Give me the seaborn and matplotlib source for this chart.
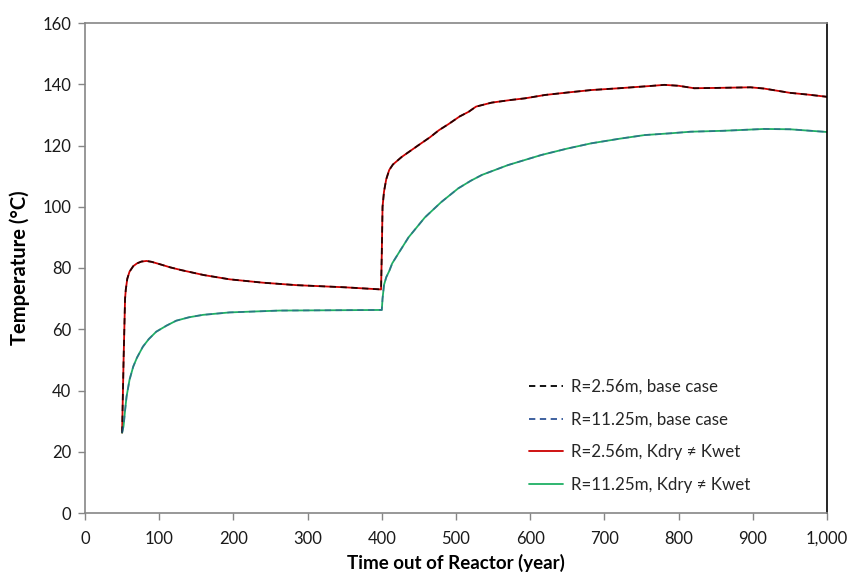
import numpy as np
import pandas as pd
import matplotlib
matplotlib.use("Agg")
import matplotlib.pyplot as plt
import matplotlib.ticker as mticker
import seaborn as sns

# ---- data ----
years_r256 = [50, 52, 54, 55, 57, 60, 65, 70, 76, 83, 90, 100, 115, 130, 160, 195, 240,
              285, 350, 399, 400, 401, 403, 406, 410, 415, 427, 440, 450, 465, 477,
              490, 505, 517, 527, 548, 575, 593, 620, 650, 682, 720, 760, 781, 800,
              821, 850, 897, 915, 950, 975, 1000]
temp_r256 = [26.2, 50, 70, 73, 76.5, 78.8, 80.6, 81.5, 82.1, 82.3, 82.0, 81.3, 80.2,
             79.3, 77.7, 76.3, 75.2, 74.4, 73.7, 73.0, 85, 100, 105, 109, 112, 113.8,
             116.3, 118.5, 120.2, 122.7, 125, 127, 129.5, 131, 132.7, 134, 134.9,
             135.4, 136.5, 137.3, 138.1, 138.7, 139.4, 139.8, 139.5, 138.7, 138.8,
             139.0, 138.6, 137.2, 136.6, 135.9]

years_r1125 = [50, 52, 54, 56, 60, 65, 70, 78, 86, 96, 110, 123, 140, 159, 195, 262,
               330, 399, 400, 401, 403, 406, 410, 414, 423, 436, 458, 480, 503, 520,
               535, 570, 615, 650, 682, 720, 754, 790, 816, 860, 915, 950, 995, 1000]
temp_r1125 = [26.2, 28.5, 33.5, 38, 43.5, 47.8, 50.7, 54.3, 56.8, 59.2, 61.2, 62.8,
              63.9, 64.7, 65.5, 66.1, 66.2, 66.3, 66.3, 70, 74.5, 77, 79, 81.5, 85,
              90, 96.5, 101.5, 106, 108.5, 110.4, 113.6, 116.9, 119, 120.7, 122.2,
              123.4, 124, 124.5, 124.8, 125.4, 125.3, 124.5, 124.4]

# the base case and the Kdry != Kwet runs coincide in the reference
years_base_r256, temp_base_r256 = list(years_r256), list(temp_r256)
years_base_r1125, temp_base_r1125 = list(years_r1125), list(temp_r1125)
years_kdry_r256, temp_kdry_r256 = list(years_r256), list(temp_r256)
years_kdry_r1125, temp_kdry_r1125 = list(years_r1125), list(temp_r1125)

labels = ["R=2.56m, base case", "R=11.25m, base case",
          "R=2.56m, Kdry \u2260 Kwet", "R=11.25m, Kdry \u2260 Kwet"]
x_ticks = list(range(0, 1001, 100))
y_ticks = list(range(0, 161, 20))

# ---- style ----
sns.set_theme(style="white")
plt.rcParams["font.family"] = ["Lato", "DejaVu Sans"]

fig = plt.figure(figsize=(8.5, 5.74), dpi=100)
ax = fig.add_axes([85 / 850, 1 - 513 / 574, (827 - 85) / 850, (513 - 23) / 574])

df_kr = pd.DataFrame({"x": years_kdry_r256, "y": temp_kdry_r256})
df_kg = pd.DataFrame({"x": years_kdry_r1125, "y": temp_kdry_r1125})
df_br = pd.DataFrame({"x": years_base_r256, "y": temp_base_r256})
df_bg = pd.DataFrame({"x": years_base_r1125, "y": temp_base_r1125})

red = "#CC0000"
green = "#1FB064"
blue = "#2F5597"

sns.lineplot(data=df_kr, x="x", y="y", ax=ax, color=red, lw=1.3, sort=False,
             estimator=None, label=labels[2], zorder=2)
sns.lineplot(data=df_kg, x="x", y="y", ax=ax, color=green, lw=1.3, sort=False,
             estimator=None, label=labels[3], zorder=2)
sns.lineplot(data=df_br, x="x", y="y", ax=ax, color="black", lw=1.3, sort=False,
             estimator=None, label=labels[0], zorder=3, dashes=False)
sns.lineplot(data=df_bg, x="x", y="y", ax=ax, color=blue, lw=1.3, sort=False,
             estimator=None, label=labels[1], zorder=3, dashes=False)
lines = ax.get_lines()
lines[2].set_linestyle((0, (3.5, 2.5)))
lines[2].set_alpha(0.8)
lines[3].set_linestyle((0, (3.5, 2.5)))
lines[3].set_alpha(0.6)

ax.set_xlim(0, 1000)
ax.set_ylim(0, 160)
ax.set_xticks(x_ticks)
ax.set_yticks(y_ticks)
ax.xaxis.set_major_formatter(mticker.FuncFormatter(lambda v, p: f"{int(v):,}"))

for s in ["left", "bottom", "top"]:
    ax.spines[s].set_color("#868686")
    ax.spines[s].set_linewidth(1.2)
ax.spines["right"].set_color("black")
ax.spines["right"].set_linewidth(1.2)
ax.tick_params(axis="both", which="major", direction="out", length=5, width=1,
               color="#868686", labelsize=12, labelcolor="#1a1a1a",
               bottom=True, left=True)
ax.tick_params(axis="x", pad=8)
ax.tick_params(axis="y", pad=5)

ax.set_xlabel("Time out of Reactor (year)", fontsize=13.5, fontweight="bold",
              labelpad=5, color="black")
ax.set_ylabel("Temperature (\u00b0C)", fontsize=14.5, fontweight="bold",
              labelpad=9, color="black")

handles, labs = ax.get_legend_handles_labels()
order = [labs.index(l) for l in labels]
leg = ax.legend([handles[i] for i in order], [labs[i] for i in order],
                loc="center left", bbox_to_anchor=(0.604, 1 - 436 / 574),
                bbox_transform=fig.transFigure, frameon=False, fontsize=12.2,
                handlelength=2.0, labelspacing=0.98, handletextpad=0.5)
for h in leg.get_lines():
    h.set_alpha(1.0)

fig.savefig("out.png", dpi=100)
